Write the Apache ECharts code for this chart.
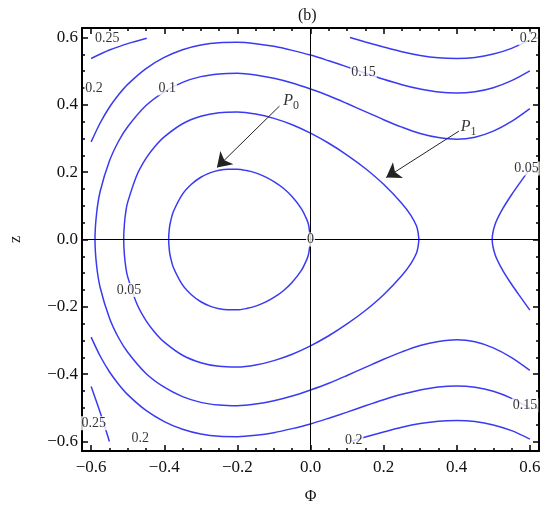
<!DOCTYPE html>
<html>
<head>
<meta charset="utf-8">
<script src="https://cdn.jsdelivr.net/npm/echarts@6/dist/echarts.min.js"></script>
<style>
  html, body { margin: 0; background: #fff; }
  #chart { width: 550px; height: 512px; }
</style>
</head>
<body>
<div id="chart"></div>
<script>
// tick values
const phiTicks = [-0.6, -0.4, -0.2, 0, 0.2, 0.4, 0.6]
const zTicks = [-0.6, -0.4, -0.2, 0, 0.2, 0.4, 0.6]
const minorTicks = [-0.6, -0.55, -0.5, -0.45, -0.4, -0.35, -0.3, -0.25, -0.2, -0.15, -0.1, -0.05, 0,
  0.05, 0.1, 0.15, 0.2, 0.25, 0.3, 0.35, 0.4, 0.45, 0.5, 0.55, 0.6]

// contour lines, [phi, z]
// level 0 : closed loop through the origin (P0)
const level0 = [[0, 0], [-0.005, 0.042], [-0.01, 0.059], [-0.025, 0.092], [-0.05, 0.127], [-0.075, 0.153],
  [-0.1, 0.172], [-0.125, 0.187], [-0.15, 0.198], [-0.175, 0.205], [-0.2, 0.209], [-0.225, 0.209],
  [-0.25, 0.206], [-0.275, 0.198], [-0.3, 0.185], [-0.325, 0.165], [-0.35, 0.135], [-0.375, 0.083],
  [-0.383, 0.052], [-0.386, 0.033], [-0.388, 0],
  [-0.386, -0.033], [-0.383, -0.052], [-0.375, -0.083], [-0.35, -0.135], [-0.325, -0.165], [-0.3, -0.185],
  [-0.275, -0.198], [-0.25, -0.206], [-0.225, -0.209], [-0.2, -0.209], [-0.175, -0.205], [-0.15, -0.198],
  [-0.125, -0.187], [-0.1, -0.172], [-0.075, -0.153], [-0.05, -0.127], [-0.025, -0.092], [-0.01, -0.059],
  [-0.005, -0.042], [0, 0]]

// level 0.05 : closed loop (P1)
const level005 = [[0.2965, 0], [0.294, 0.023], [0.29, 0.04], [0.275, 0.071], [0.25, 0.107], [0.2, 0.164],
  [0.15, 0.211], [0.1, 0.251], [0.05, 0.286], [0, 0.316], [-0.05, 0.341], [-0.1, 0.36], [-0.15, 0.373],
  [-0.2, 0.379], [-0.25, 0.377], [-0.3, 0.366], [-0.35, 0.344], [-0.4, 0.305], [-0.425, 0.277],
  [-0.45, 0.241], [-0.475, 0.191], [-0.5, 0.111], [-0.505, 0.084], [-0.509, 0.046], [-0.511, 0],
  [-0.509, -0.046], [-0.505, -0.084], [-0.5, -0.111], [-0.475, -0.191], [-0.45, -0.241], [-0.425, -0.277],
  [-0.4, -0.305], [-0.35, -0.344], [-0.3, -0.366], [-0.25, -0.377], [-0.2, -0.379], [-0.15, -0.373],
  [-0.1, -0.36], [-0.05, -0.341], [0, -0.316], [0.05, -0.286], [0.1, -0.251], [0.15, -0.211],
  [0.2, -0.164], [0.25, -0.107], [0.275, -0.071], [0.29, -0.04], [0.294, -0.023], [0.2965, 0]]

// level 0.05 : right branch
const level005Right = [[0.6, 0.21], [0.575, 0.172], [0.55, 0.133], [0.525, 0.09], [0.505, 0.045], [0.497, 0],
  [0.505, -0.045], [0.525, -0.09], [0.55, -0.133], [0.575, -0.172], [0.6, -0.21]]

// level 0.1
const level01 = [[0.6, 0.389], [0.55, 0.351], [0.5, 0.322], [0.45, 0.304], [0.4, 0.298], [0.35, 0.303],
  [0.3, 0.315], [0.25, 0.334], [0.2, 0.356], [0.15, 0.38], [0.1, 0.404], [0.05, 0.427], [0, 0.447],
  [-0.05, 0.465], [-0.1, 0.479], [-0.15, 0.489], [-0.2, 0.494], [-0.25, 0.492], [-0.3, 0.484],
  [-0.35, 0.467], [-0.4, 0.439], [-0.45, 0.398], [-0.5, 0.335], [-0.525, 0.292], [-0.55, 0.233],
  [-0.575, 0.144], [-0.585, 0.078], [-0.5895, 0],
  [-0.585, -0.078], [-0.575, -0.144], [-0.55, -0.233], [-0.525, -0.292], [-0.5, -0.335], [-0.45, -0.398],
  [-0.4, -0.439], [-0.35, -0.467], [-0.3, -0.484], [-0.25, -0.492], [-0.2, -0.494], [-0.15, -0.489],
  [-0.1, -0.479], [-0.05, -0.465], [0, -0.447], [0.05, -0.427], [0.1, -0.404], [0.15, -0.38],
  [0.2, -0.356], [0.25, -0.334], [0.3, -0.315], [0.35, -0.303], [0.4, -0.298], [0.45, -0.304],
  [0.5, -0.322], [0.55, -0.351], [0.6, -0.389]]

// level 0.15
const level015Top = [[0.6, 0.501], [0.55, 0.472], [0.5, 0.451], [0.45, 0.439], [0.4, 0.435], [0.35, 0.438],
  [0.3, 0.447], [0.25, 0.46], [0.2, 0.476], [0.15, 0.494], [0.1, 0.513], [0.05, 0.531], [0, 0.548],
  [-0.05, 0.562], [-0.1, 0.574], [-0.15, 0.582], [-0.2, 0.586], [-0.25, 0.585], [-0.3, 0.578],
  [-0.35, 0.564], [-0.4, 0.541], [-0.45, 0.508], [-0.5, 0.461], [-0.525, 0.43], [-0.55, 0.393],
  [-0.575, 0.347], [-0.6, 0.29]]
const level015Bottom = [[0.6, -0.501], [0.55, -0.472], [0.5, -0.451], [0.45, -0.439], [0.4, -0.435],
  [0.35, -0.438], [0.3, -0.447], [0.25, -0.46], [0.2, -0.476], [0.15, -0.494], [0.1, -0.513],
  [0.05, -0.531], [0, -0.548], [-0.05, -0.562], [-0.1, -0.574], [-0.15, -0.582], [-0.2, -0.586],
  [-0.25, -0.585], [-0.3, -0.578], [-0.35, -0.564], [-0.4, -0.541], [-0.45, -0.508], [-0.5, -0.461],
  [-0.525, -0.43], [-0.55, -0.393], [-0.575, -0.347], [-0.6, -0.29]]

// level 0.2 (right side)
const level02Top = [[0.108, 0.6], [0.15, 0.587], [0.2, 0.572], [0.25, 0.558], [0.3, 0.547], [0.35, 0.54],
  [0.4, 0.538], [0.45, 0.541], [0.5, 0.551], [0.55, 0.568], [0.6, 0.593]]
const level02Bottom = [[0.108, -0.6], [0.15, -0.587], [0.2, -0.572], [0.25, -0.558], [0.3, -0.547],
  [0.35, -0.54], [0.4, -0.538], [0.45, -0.541], [0.5, -0.551], [0.55, -0.568], [0.6, -0.593]]

// short pieces in the left corners
const cornerTopLeft = [[-0.6, 0.538], [-0.55, 0.563], [-0.5, 0.582], [-0.448, 0.598]]
const cornerBottomLeft = [[-0.6, -0.437], [-0.575, -0.515], [-0.55, -0.6]]

// contour labels [phi, z, text]
const contourLabels = [
  [-0.556, 0.598, '0.25'], [-0.592, 0.449, '0.2'], [-0.392, 0.449, '0.1'], [0.145, 0.498, '0.15'],
  [0.596, 0.597, '0.2'], [0.5907, 0.211, '0.05'], [0, 0, '0'], [-0.4965, -0.15, '0.05'],
  [-0.593, -0.546, '0.25'], [-0.466, -0.591, '0.2'], [0.118, -0.597, '0.2'], [0.587, -0.4926, '0.15']
]

// arrows [tail, head] and point names
const arrowP0 = [[-0.0848, 0.3965], [-0.256, 0.214]]
const arrowP1 = [[0.4059, 0.322], [0.207, 0.184]]
const pointNames = [[-0.076, 0.4114, '0'], [0.4093, 0.3338, '1']]

const serif = "'Liberation Serif', 'DejaVu Serif', serif"
const blue = '#3a3af2'
const phiRange = [-0.625, 0.625]
const zRange = [-0.6285, 0.6285]
const fmt = v => (v < 0 ? '\u2212' : '') + Math.abs(v).toFixed(1)

const frameAxis = (pos, range, ticks, len, showLine, extra) => Object.assign({
  type: 'value',
  position: pos,
  min: range[0],
  max: range[1],
  axisLine: { show: showLine, onZero: false, lineStyle: { color: '#000', width: 2 } },
  axisTick: { show: true, inside: true, length: len, customValues: ticks, lineStyle: { color: '#000', width: 1.5 } },
  axisLabel: { show: false },
  splitLine: { show: false },
}, extra)

const tickLabel = (ticks, margin) => ({
  show: true,
  customValues: ticks,
  formatter: fmt,
  margin: margin,
  fontFamily: serif,
  fontSize: 17,
  color: '#111',
})

const contour = (data) => ({
  type: 'line',
  data: data,
  showSymbol: false,
  smooth: 0.3,
  silent: true,
  lineStyle: { color: blue, width: 1.5 },
})

const arrow = (pts) => ({
  type: 'lines',
  coordinateSystem: 'cartesian2d',
  silent: true,
  z: 4,
  symbol: ['none', 'arrow'],
  symbolSize: 14,
  lineStyle: { color: '#222', width: 1, opacity: 1 },
  data: [{ coords: pts }],
})

// invisible points that only carry text
const textPoints = (data, label) => ({
  type: 'scatter',
  silent: true,
  z: 5,
  symbolSize: 1,
  itemStyle: { color: 'transparent' },
  data: data.map(l => ({ value: [l[0], l[1]], name: l[2] })),
  label: label,
})

const chart = echarts.init(document.getElementById('chart'))
chart.setOption({
  animation: false,
  title: {
    text: '(b)',
    left: 293,
    top: 3,
    textStyle: { fontFamily: serif, fontSize: 16, fontWeight: 'normal', color: '#111' },
  },
  grid: { left: 70, right: 11, top: 28, bottom: 61 },
  xAxis: [
    frameAxis('bottom', phiRange, phiTicks, 6, true, {
      axisLabel: tickLabel(phiTicks, 8),
      name: 'Φ',
      nameLocation: 'middle',
      nameGap: 38,
      nameTextStyle: { fontFamily: serif, fontSize: 16, color: '#111' },
    }),
    frameAxis('bottom', phiRange, minorTicks, 3, false),
    frameAxis('top', phiRange, phiTicks, 6, true),
    frameAxis('top', phiRange, minorTicks, 3, false),
  ],
  yAxis: [
    frameAxis('left', zRange, zTicks, 6, true, {
      axisLabel: tickLabel(zTicks, 4),
      name: 'z',
      nameLocation: 'middle',
      nameGap: 58,
      nameRotate: 90,
      nameTextStyle: { fontFamily: serif, fontSize: 16, color: '#111' },
    }),
    frameAxis('left', zRange, minorTicks, 3, false),
    frameAxis('right', zRange, zTicks, 6, true),
    frameAxis('right', zRange, minorTicks, 3, false),
  ],
  series: [
    Object.assign(contour(level0), {
      markLine: {
        silent: true,
        symbol: 'none',
        label: { show: false },
        lineStyle: { color: '#000', width: 1, type: 'solid' },
        data: [{ xAxis: 0 }, { yAxis: 0 }],
      },
    }),
    contour(level005),
    contour(level005Right),
    contour(level01),
    contour(level015Top),
    contour(level015Bottom),
    contour(level02Top),
    contour(level02Bottom),
    contour(cornerTopLeft),
    contour(cornerBottomLeft),
    arrow(arrowP0),
    arrow(arrowP1),
    textPoints(contourLabels, {
      show: true,
      position: 'inside',
      formatter: p => p.name,
      fontFamily: serif,
      fontSize: 14,
      color: '#000',
      backgroundColor: '#fff',
      padding: [0, 1],
    }),
    textPoints(pointNames, {
      show: true,
      position: 'right',
      distance: 0,
      formatter: p => '{p|P}{s|' + p.name + '}',
      rich: {
        p: { fontFamily: serif, fontStyle: 'italic', fontSize: 16, color: '#000', lineHeight: 22, verticalAlign: 'middle' },
        s: { fontFamily: serif, fontSize: 12, color: '#000', lineHeight: 22, verticalAlign: 'bottom' },
      },
    }),
  ],
})
</script>
</body>
</html>
